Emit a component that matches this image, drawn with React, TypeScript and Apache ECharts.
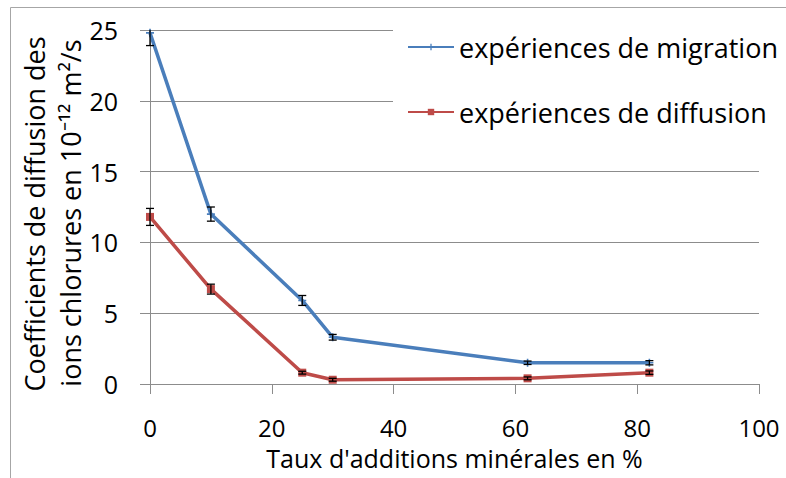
import React, { useEffect, useRef } from "react";
import * as echarts from "echarts";

const xValues = [0, 10, 25, 30, 62, 82];
const migration = [24.8, 12.0, 5.9, 3.3, 1.5, 1.5];
const migrationErr = [0.9, 0.5, 0.35, 0.2, 0.12, 0.15];
const diffusion = [11.8, 6.7, 0.8, 0.3, 0.4, 0.8];
const diffusionErr = [0.6, 0.35, 0.1, 0.1, 0.1, 0.12];

const seriesNames = ["expériences de migration", "expériences de diffusion"];
const yTitleLines = ["Coefficients de diffusion des", "ions chlorures en 10⁻¹² m²/s"];
const xTitle = "Taux d'additions minérales en %";

const FONT = "Open Sans";
const BLUE = "#4a7ebb";
const RED = "#be4b48";
const GRAY = "#8c8c8c";

const plusPath = "path://M4,0H6V4H10V6H6V10H4V6H0V4H4Z";

function errData(vals: number[], errs: number[]) {
  return xValues.map((x, i) => [x, vals[i], errs[i]]);
}

function renderErr(params: any, api: any) {
  const x = api.value(0);
  const y = api.value(1);
  const e = api.value(2);
  const cs = params.coordSys;
  const top = api.coord([x, y + e]);
  const bot = api.coord([x, y - e]);
  const hw = 4;
  const style = { stroke: "#000", lineWidth: 1.3 };
  const topClipped = top[1] < cs.y;
  const botClipped = bot[1] > cs.y + cs.height;
  const ty = Math.max(top[1], cs.y);
  const by = Math.min(bot[1], cs.y + cs.height);
  const children: any[] = [
    { type: "line", shape: { x1: top[0], y1: ty, x2: bot[0], y2: by }, style },
  ];
  if (!topClipped)
    children.push({ type: "line", shape: { x1: top[0] - hw, y1: ty, x2: top[0] + hw, y2: ty }, style });
  if (!botClipped)
    children.push({ type: "line", shape: { x1: bot[0] - hw, y1: by, x2: bot[0] + hw, y2: by }, style });
  return { type: "group", children };
}

export default function App() {
  const ref = useRef<HTMLDivElement>(null);
  useEffect(() => {
    if (!ref.current) return;
    const chart = echarts.init(ref.current, undefined, { renderer: "svg" });
    chart.setOption({
      animation: false,
      backgroundColor: "#fff",
      textStyle: { fontFamily: FONT },
      grid: { left: 150, right: 27, top: 30, bottom: 94 },
      legend: {
        orient: "vertical",
        left: 393,
        top: 18,
        padding: [14, 40, 30, 14],
        itemGap: 35,
        itemWidth: 46,
        itemHeight: 8,
        backgroundColor: "#fff",
        textStyle: { fontFamily: FONT, fontSize: 27, lineHeight: 30, color: "#000" },
        data: seriesNames,
      },
      xAxis: {
        type: "value",
        min: 0,
        max: 100,
        interval: 20,
        name: xTitle,
        nameLocation: "middle",
        nameGap: 63,
        nameTextStyle: { fontFamily: FONT, fontSize: 25, lineHeight: 22, color: "#000" },
        axisLine: { lineStyle: { color: GRAY, width: 1 } },
        axisTick: { show: true, length: 10, lineStyle: { color: GRAY } },
        axisLabel: { fontFamily: FONT, fontSize: 24, lineHeight: 20, color: "#000", margin: 33 },
        splitLine: { show: false },
      },
      yAxis: {
        type: "value",
        min: 0,
        max: 25,
        interval: 5,
        axisLine: { show: true, lineStyle: { color: GRAY, width: 1 } },
        axisTick: { show: true, length: 10, lineStyle: { color: GRAY } },
        axisLabel: { fontFamily: FONT, fontSize: 25, color: "#000", margin: 32 },
        splitLine: { show: true, lineStyle: { color: GRAY, width: 1 } },
      },
      graphic: [
        {
          type: "polyline",
          shape: { points: [[10.5, 478], [10.5, 7.5], [786, 7.5]] },
          style: { stroke: "#a6a6a6", lineWidth: 1, fill: "none" },
          silent: true,
        },
        {
          type: "text",
          x: 34,
          y: 214,
          rotation: Math.PI / 2,
          style: {
            text: yTitleLines[0],
            fontFamily: FONT,
            fontSize: 27,
            fill: "#000",
            align: "center",
            verticalAlign: "middle",
          },
        },
        {
          type: "text",
          x: 70,
          y: 213,
          rotation: Math.PI / 2,
          style: {
            text: yTitleLines[1],
            fontFamily: FONT,
            fontSize: 27,
            fill: "#000",
            align: "center",
            verticalAlign: "middle",
          },
        },
      ],
      series: [
        {
          name: seriesNames[0],
          type: "line",
          data: xValues.map((x, i) => [x, migration[i]]),
          symbol: plusPath,
          symbolSize: 8,
          showSymbol: true,
          lineStyle: { color: BLUE, width: 3.5 },
          itemStyle: { color: BLUE },
          z: 3,
        },
        {
          name: seriesNames[1],
          type: "line",
          data: xValues.map((x, i) => [x, diffusion[i]]),
          symbol: "rect",
          symbolSize: 8,
          showSymbol: true,
          lineStyle: { color: RED, width: 3.5 },
          itemStyle: { color: RED },
          z: 3,
        },
        {
          type: "custom",
          renderItem: renderErr,
          data: errData(migration, migrationErr),
          encode: { x: 0, y: 1 },
          z: 4,
          silent: true,
        },
        {
          type: "custom",
          renderItem: renderErr,
          data: errData(diffusion, diffusionErr),
          encode: { x: 0, y: 1 },
          z: 4,
          silent: true,
        },
      ],
    });
    return () => chart.dispose();
  }, []);
  return <div ref={ref} style={{ width: 786, height: 478, position: "absolute", left: 0, top: 0 }} />;
}
